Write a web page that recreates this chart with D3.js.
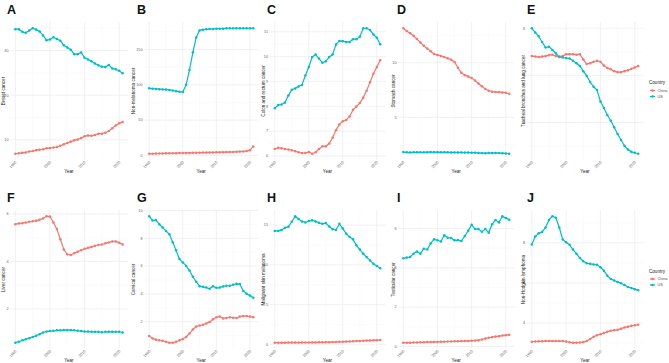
<!DOCTYPE html>
<html><head>
<meta charset="utf-8">
<script src="https://d3js.org/d3.v7.min.js"></script>
<style>
  body { margin: 0; background: #fff; }
  text { font-family: "Liberation Sans", Arial, sans-serif; }
</style>
</head>
<body>
<svg id="chart" width="669" height="363"></svg>
<script>
const years = [1990,1991,1992,1993,1994,1995,1996,1997,1998,1999,2000,2001,2002,2003,2004,2005,
               2006,2007,2008,2009,2010,2011,2012,2013,2014,2015,2016,2017,2018,2019,2020,2021];
const xTicks = [1990, 2000, 2010, 2020];
const countries = ["China", "US"];

// A breast
const breastChina = [6.9,7.0,7.1,7.2,7.4,7.5,7.7,7.8,7.9,8.1,8.2,8.3,8.4,8.7,9.0,9.3,9.6,9.9,10.1,10.4,10.8,11.0,10.9,11.1,11.4,11.4,11.6,12.0,12.6,13.2,13.7,14.0];
const breastUS = [34.8,34.8,34.2,34.0,34.5,35.0,34.7,34.3,33.4,32.3,32.5,33.0,32.6,32.2,31.2,30.7,30.2,29.2,29.2,29.6,28.4,28.0,27.6,27.1,26.7,26.4,26.3,26.8,26.0,25.8,25.5,24.9];
const breastTicks = [10, 20, 30];
// B non-melanoma
const nmscChina = [2.5,2.6,2.7,2.8,2.9,3.0,3.0,3.2,3.3,3.4,3.5,3.6,3.7,3.8,3.9,4.0,4.1,4.2,4.3,4.4,4.5,4.6,4.7,4.8,4.9,5.0,5.2,5.5,5.8,6.3,7.5,12.8];
const nmscUS = [95,94.5,94.2,93.8,93.5,93.2,92.8,92,91,90.3,90,100,121,146,167,177,178,178.5,179,179,179.5,179.5,179.5,180,180,180,180,180,180,180,180,180];
const nmscTicks = [0, 50, 100, 150];
// C colon and rectum
const colonChina = [6.28,6.33,6.31,6.28,6.26,6.23,6.19,6.15,6.12,6.12,6.16,6.09,6.15,6.28,6.39,6.39,6.50,6.73,7.04,7.27,7.40,7.45,7.59,7.86,7.99,8.13,8.34,8.63,8.97,9.31,9.58,9.85];
const colonUS = [7.92,8.05,8.07,8.15,8.43,8.67,8.72,8.80,8.86,9.24,9.58,9.98,10.08,9.92,9.75,9.81,9.98,10.08,10.49,10.63,10.62,10.59,10.59,10.70,10.70,10.80,11.14,11.14,11.07,10.89,10.76,10.50];
const colonTicks = [6, 7, 8, 9, 10, 11];
// D stomach
const stomachChina = [13.15,12.90,12.69,12.47,12.16,11.85,11.54,11.30,11.05,10.80,10.71,10.62,10.52,10.40,10.28,10.06,9.54,9.07,8.86,8.73,8.61,8.36,8.09,7.84,7.59,7.44,7.35,7.31,7.31,7.28,7.25,7.16];
const stomachUS = [1.82,1.80,1.79,1.80,1.81,1.80,1.80,1.81,1.82,1.81,1.81,1.80,1.81,1.80,1.79,1.79,1.79,1.79,1.78,1.78,1.77,1.76,1.74,1.73,1.72,1.73,1.74,1.74,1.73,1.72,1.70,1.67];
const stomachTicks = [5, 10];
// E lung
const lungChina = [5.41,5.40,5.39,5.40,5.41,5.43,5.44,5.41,5.40,5.41,5.45,5.45,5.45,5.44,5.45,5.34,5.24,5.26,5.29,5.31,5.29,5.21,5.16,5.13,5.09,5.07,5.07,5.09,5.11,5.14,5.17,5.20];
const lungUS = [6.00,5.91,5.83,5.71,5.59,5.61,5.54,5.47,5.39,5.38,5.37,5.36,5.31,5.26,5.20,5.09,4.99,4.86,4.76,4.69,4.45,4.31,4.16,4.04,3.90,3.76,3.63,3.51,3.43,3.38,3.36,3.34];
const lungTicks = [4, 5, 6];
// F liver
const liverChina = [5.57,5.60,5.61,5.64,5.67,5.69,5.71,5.76,5.81,5.90,5.89,5.64,5.36,4.93,4.50,4.30,4.27,4.34,4.41,4.47,4.53,4.57,4.61,4.66,4.69,4.71,4.76,4.80,4.84,4.84,4.79,4.71];
const liverUS = [0.57,0.61,0.67,0.71,0.76,0.81,0.86,0.93,1.00,1.04,1.06,1.07,1.09,1.09,1.10,1.10,1.10,1.09,1.07,1.06,1.04,1.04,1.03,1.03,1.03,1.01,1.03,1.03,1.03,1.03,1.03,1.00];
const liverTicks = [2, 4, 6];
// G cervical
const cervixChina = [0.98,0.80,0.71,0.66,0.63,0.56,0.49,0.49,0.56,0.66,0.76,0.90,1.15,1.44,1.66,1.73,1.78,1.88,1.98,2.17,2.32,2.37,2.24,2.27,2.32,2.29,2.27,2.37,2.41,2.41,2.37,2.32];
const cervixUS = [9.59,9.29,9.32,9.02,8.78,8.54,8.29,7.73,7.15,6.51,6.27,6.02,5.68,5.24,4.88,4.56,4.51,4.46,4.37,4.56,4.44,4.46,4.54,4.59,4.59,4.66,4.73,4.71,4.22,4.02,3.88,3.73];
const cervixTicks = [2, 4, 6, 8, 10];
// H melanoma
const melanomaChina = [0.21,0.21,0.21,0.21,0.22,0.22,0.22,0.22,0.23,0.23,0.23,0.24,0.24,0.25,0.26,0.27,0.28,0.29,0.31,0.32,0.34,0.35,0.37,0.39,0.41,0.43,0.45,0.47,0.49,0.51,0.53,0.55];
const melanomaUS = [14.27,14.27,14.40,14.66,14.79,15.43,16.11,15.77,15.47,15.34,15.51,15.60,15.47,15.30,15.17,15.26,14.83,14.49,14.40,15.17,14.57,13.93,13.50,13.21,12.48,11.92,11.41,10.98,10.56,10.13,9.87,9.57];
const melanomaTicks = [0, 5, 10, 15];
// I testicular
const testisChina = [0.19,0.19,0.19,0.20,0.20,0.21,0.21,0.22,0.22,0.23,0.23,0.24,0.24,0.25,0.25,0.26,0.26,0.27,0.27,0.28,0.29,0.30,0.32,0.35,0.40,0.44,0.47,0.50,0.52,0.55,0.57,0.59];
const testisUS = [4.48,4.52,4.55,4.72,4.83,4.72,4.97,4.93,5.24,5.45,5.40,5.34,5.66,5.53,5.52,5.40,5.41,5.36,5.62,5.88,6.19,5.97,5.97,5.83,5.97,5.79,6.22,6.43,6.31,6.62,6.53,6.45];
const testisTicks = [0, 2, 4, 6];
// J non-Hodgkin
const nhlChina = [3.07,3.08,3.09,3.09,3.10,3.10,3.10,3.10,3.10,3.10,3.08,3.04,3.02,3.02,3.03,3.05,3.10,3.20,3.31,3.39,3.44,3.50,3.56,3.62,3.64,3.66,3.72,3.78,3.82,3.86,3.89,3.92];
const nhlUS = [7.92,8.31,8.47,8.54,8.76,9.14,9.32,9.25,8.76,8.17,8.03,7.90,7.66,7.46,7.24,7.08,6.98,6.95,6.92,6.90,6.78,6.61,6.36,6.20,6.12,6.05,5.98,5.90,5.80,5.75,5.69,5.63];
const nhlTicks = [4, 6, 8];

const panels = [
  {tag: "A", title: "Breast cancer", china: breastChina, us: breastUS, ticks: breastTicks},
  {tag: "B", title: "Non-melanoma cancer", china: nmscChina, us: nmscUS, ticks: nmscTicks},
  {tag: "C", title: "Colon and rectum cancer", china: colonChina, us: colonUS, ticks: colonTicks},
  {tag: "D", title: "Stomach cancer", china: stomachChina, us: stomachUS, ticks: stomachTicks},
  {tag: "E", title: "Tracheal bronchus and lung cancer", china: lungChina, us: lungUS, ticks: lungTicks, legend: true},
  {tag: "F", title: "Liver cancer", china: liverChina, us: liverUS, ticks: liverTicks},
  {tag: "G", title: "Cervical cancer", china: cervixChina, us: cervixUS, ticks: cervixTicks},
  {tag: "H", title: "Malignant skin melanoma", china: melanomaChina, us: melanomaUS, ticks: melanomaTicks},
  {tag: "I", title: "Testicular cancer", china: testisChina, us: testisUS, ticks: testisTicks},
  {tag: "J", title: "Non-Hodgkin lymphoma", china: nhlChina, us: nhlUS, ticks: nhlTicks, legend: true}
];

const colors = d3.scaleOrdinal().domain(countries).range(["#F8766D", "#00BFC4"]);

// plot areas
const cols = [[10, 128], [144, 258.5], [269.5, 385.5], [398, 514.5], [526.5, 643.5]];
const rows = [[22, 160], [210, 349]];
const colLeft = [0, 130, 260, 390, 520];

const svg = d3.select("#chart");

panels.forEach((p, i) => {
  const c = i % 5, r = Math.floor(i / 5);
  const [x0, x1] = cols[c];
  const [y0, y1] = rows[r];
  const g = svg.append("g");

  const xspan = years[years.length - 1] - years[0];
  const x = d3.scaleLinear()
    .domain([years[0] - 0.05 * xspan, years[years.length - 1] + 0.05 * xspan])
    .range([x0, x1]);
  const all = p.china.concat(p.us);
  const [lo, hi] = d3.extent(all);
  const y = d3.scaleLinear()
    .domain([lo - 0.05 * (hi - lo), hi + 0.05 * (hi - lo)])
    .range([y1, y0]);

  // minor grid
  const step = p.ticks[1] - p.ticks[0];
  const minorY = [];
  for (let k = -1; k < p.ticks.length; k++) {
    const v = p.ticks[0] + step * (k + 0.5);
    if (v > y.domain()[0] && v < y.domain()[1]) minorY.push(v);
  }
  const minorX = [1995, 2005, 2015];
  g.selectAll("line.minory").data(minorY).join("line")
    .attr("x1", x0).attr("x2", x1)
    .attr("y1", d => y(d)).attr("y2", d => y(d))
    .attr("stroke", "#f5f5f5").attr("stroke-width", 0.4);
  g.selectAll("line.minorx").data(minorX).join("line")
    .attr("y1", y0).attr("y2", y1)
    .attr("x1", d => x(d)).attr("x2", d => x(d))
    .attr("stroke", "#f5f5f5").attr("stroke-width", 0.4);
  // major grid
  const shown = p.ticks.filter(t => t >= y.domain()[0] && t <= y.domain()[1]);
  g.append("g").selectAll("line").data(shown).join("line")
    .attr("x1", x0).attr("x2", x1)
    .attr("y1", d => y(d)).attr("y2", d => y(d))
    .attr("stroke", "#ebebeb").attr("stroke-width", 0.7);
  g.append("g").selectAll("line").data(xTicks).join("line")
    .attr("y1", y0).attr("y2", y1)
    .attr("x1", d => x(d)).attr("x2", d => x(d))
    .attr("stroke", "#ebebeb").attr("stroke-width", 0.7);

  // y tick labels
  g.append("g").selectAll("text").data(shown).join("text")
    .attr("x", x0 - 1.5).attr("y", d => y(d) + 1.3)
    .attr("text-anchor", "end").attr("font-size", 3.8).attr("fill", "#666")
    .text(d => d);
  // x tick labels, rotated
  g.append("g").selectAll("text").data(xTicks).join("text")
    .attr("transform", d => `translate(${x(d) + 1.5},${y1 + 2.5}) rotate(-45)`)
    .attr("text-anchor", "end").attr("font-size", 3.8).attr("fill", "#666")
    .text(d => d);

  // axis titles
  g.append("text").attr("x", (x0 + x1) / 2).attr("y", y1 + 13)
    .attr("text-anchor", "middle").attr("font-size", 4.6).attr("fill", "#222")
    .text("Year");
  g.append("text")
    .attr("transform", `translate(${colLeft[c] + 5},${(y0 + y1) / 2}) rotate(-90)`)
    .attr("text-anchor", "middle").attr("font-size", 4.6).attr("fill", "#222")
    .text(p.title);

  // panel tag
  g.append("text").attr("x", colLeft[c] + 7).attr("y", r === 0 ? 14 : 202)
    .attr("font-size", 12.5).attr("font-weight", "bold").attr("fill", "#111")
    .text(p.tag);

  // series
  const line = d3.line().x((d, k) => x(years[k])).y(d => y(d));
  [["China", p.china], ["US", p.us]].forEach(([name, vals]) => {
    g.append("path").datum(vals)
      .attr("d", line).attr("fill", "none")
      .attr("stroke", colors(name)).attr("stroke-width", 1.2);
    g.append("g").selectAll("circle").data(vals).join("circle")
      .attr("cx", (d, k) => x(years[k])).attr("cy", d => y(d))
      .attr("r", 1.25).attr("fill", colors(name));
  });

  // legend
  if (p.legend) {
    const cy = (y0 + y1) / 2;
    const lg = g.append("g").attr("transform", `translate(649,${cy - 7})`);
    lg.append("text").attr("x", 0).attr("y", 0).attr("font-size", 4.6).attr("fill", "#222").text("Country");
    countries.forEach((name, k) => {
      const ly = 6.5 + k * 6;
      lg.append("line").attr("x1", 1).attr("x2", 6).attr("y1", ly).attr("y2", ly)
        .attr("stroke", colors(name)).attr("stroke-width", 1.2);
      lg.append("circle").attr("cx", 3.5).attr("cy", ly).attr("r", 1.25).attr("fill", colors(name));
      lg.append("text").attr("x", 8.5).attr("y", ly + 1.4).attr("font-size", 3.8).attr("fill", "#4d4d4d").text(name);
    });
  }
});
</script>
</body>
</html>
